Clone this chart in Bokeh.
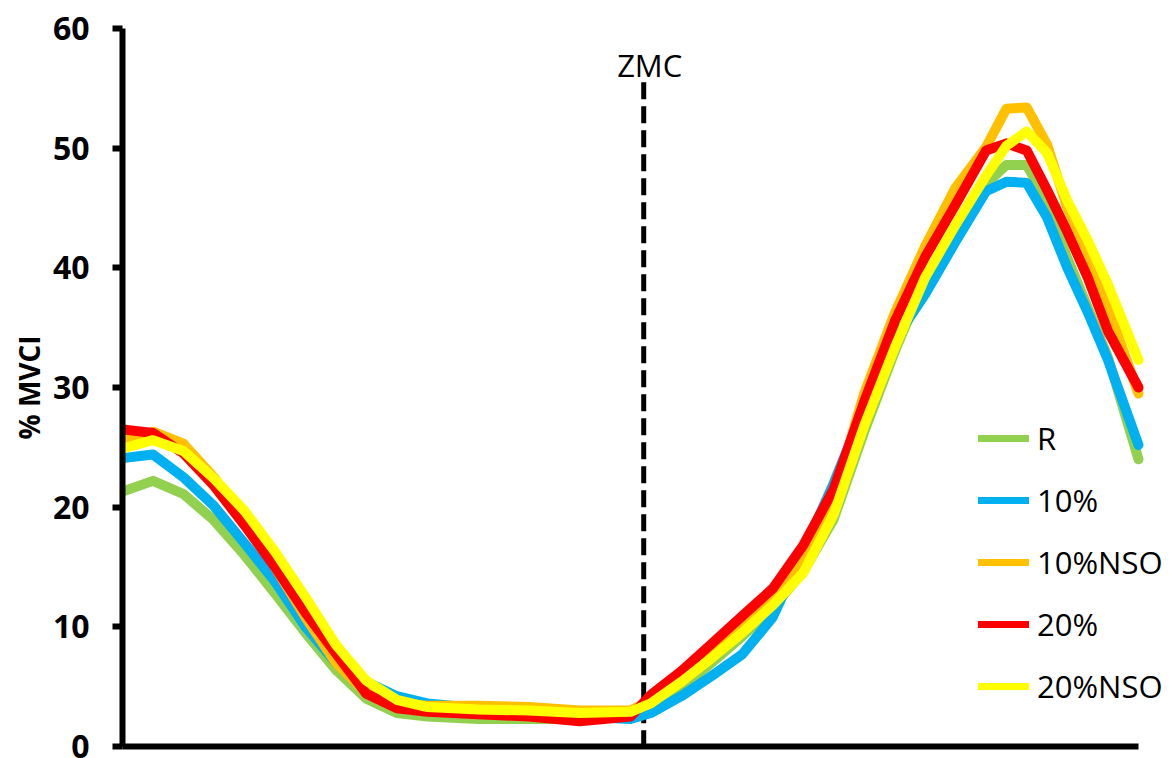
from bokeh.plotting import figure
from bokeh.models import Range1d, Legend, LegendItem, FixedTicker
from bokeh.core.properties import value
from bokeh.embed import file_html
from bokeh.resources import INLINE

# % of cycle
x = [0, 3, 6, 9, 12, 15, 18, 21, 24, 27, 30, 35, 40, 45, 50, 52, 55, 58, 61,
     64, 67, 70, 73, 76, 79, 82, 85, 87, 89, 91, 93, 95, 97, 100]

r_vals = [21.3, 22.2, 21.1, 18.9, 16.0, 12.8, 9.5, 6.4, 4.0, 2.8, 2.5, 2.3, 2.3, 2.3, 2.5,
          3.2, 4.9, 7.0, 9.2, 11.6, 14.6, 19.0, 26.3, 33.0, 39.0, 43.3, 47.0, 48.6, 48.6,
          45.6, 40.8, 36.7, 32.5, 24.0]
p10_vals = [24.1, 24.4, 22.5, 20.1, 17.0, 13.8, 10.0, 7.0, 5.4, 4.2, 3.6, 3.2, 3.0, 2.5, 2.3,
            2.8, 4.2, 5.9, 7.7, 10.8, 16.3, 22.0, 28.3, 34.0, 37.8, 42.2, 46.4, 47.2, 47.1,
            44.2, 40.0, 36.3, 32.3, 25.2]
p10nso_vals = [25.6, 26.3, 25.3, 22.5, 19.0, 15.0, 10.8, 7.0, 4.5, 3.6, 3.4, 3.4, 3.3, 3.0, 3.0,
               3.9, 5.8, 8.0, 10.2, 12.3, 15.8, 20.8, 29.5, 36.2, 41.8, 46.7, 50.1, 53.3, 53.4,
               50.3, 45.0, 41.3, 36.7, 29.5]
p20_vals = [26.5, 26.2, 24.5, 21.8, 18.5, 15.0, 11.2, 7.8, 4.4, 3.2, 2.9, 2.7, 2.5, 2.1, 2.5,
            4.3, 6.3, 8.6, 10.9, 13.2, 16.8, 21.5, 28.8, 35.5, 40.9, 45.3, 49.8, 50.4, 49.8,
            46.5, 43.0, 39.2, 34.7, 30.0]
p20nso_vals = [24.9, 25.6, 24.7, 22.4, 19.7, 16.3, 12.5, 8.5, 5.5, 3.9, 3.3, 3.1, 3.0, 2.8, 2.9,
               3.6, 5.4, 7.4, 9.5, 11.8, 14.5, 19.4, 26.8, 33.3, 39.2, 43.6, 47.7, 50.2, 51.4,
               49.6, 45.6, 42.3, 38.6, 32.3]

labels = ["R", "10%", "10%NSO", "20%", "20%NSO"]
colors = ["#92D050", "#00B0F0", "#FFC000", "#FF0000", "#FFFF00"]
series = [r_vals, p10_vals, p10nso_vals, p20_vals, p20nso_vals]

y_ticks = [0, 10, 20, 30, 40, 50, 60]
zmc_x = 51.3
zmc_top = 55.5

# frame: left at 122 px, x=100 at 1138 px, extends to canvas right edge
p = figure(width=1170, height=758, x_range=Range1d(0, 103.15), y_range=Range1d(0, 60),
           output_backend="svg", toolbar_location=None,
           min_border_left=122, min_border_right=0, min_border_top=28, min_border_bottom=12)
p.outline_line_color = None
p.grid.visible = False
p.background_fill_color = "white"

# y axis
p.yaxis.ticker = FixedTicker(ticks=y_ticks)
p.yaxis.axis_line_width = 6
p.yaxis.major_tick_line_width = 6
p.yaxis.major_tick_out = 10
p.yaxis.major_tick_in = 0
p.yaxis.minor_tick_line_color = None
p.yaxis.major_label_text_font = "Open Sans"
p.yaxis.major_label_text_font_style = "bold"
p.yaxis.major_label_text_font_size = "32px"
p.yaxis.major_label_text_color = "black"
p.yaxis.major_label_standoff = 23
p.yaxis.axis_label = "% MVCI"
p.yaxis.axis_label_text_font = "Open Sans"
p.yaxis.axis_label_text_font_style = "bold"
p.yaxis.axis_label_text_font_size = "28px"
p.yaxis.axis_label_text_color = "black"
p.yaxis.axis_label_standoff = 2

# x axis (line only, from 0 to 100)
p.xaxis.ticker = FixedTicker(ticks=[])
p.xaxis.bounds = (0, 100)
p.xaxis.axis_line_width = 6
p.xaxis.major_tick_line_color = None
p.xaxis.minor_tick_line_color = None
p.xaxis.major_label_text_font_size = "0px"
p.xaxis.major_label_standoff = 0

# ZMC line
p.segment(x0=[zmc_x], y0=[zmc_top], x1=[zmc_x], y1=[0], line_color="black",
          line_width=5, line_dash="17 7")
p.text(x=[zmc_x], y=[zmc_top], text=["ZMC"], text_align="center",
       text_baseline="alphabetic", x_offset=6, y_offset=-17,
       text_font=value("Open Sans"), text_font_size="31px", text_color="black")

for vals, c in zip(series, colors):
    p.line(x, vals, line_width=10, line_color=c, line_join="round", line_cap="round")

nan = float("nan")
items = []
for lab, c in zip(labels, colors):
    d = p.line(x=[nan, nan], y=[nan, nan], line_width=7, line_color=c, line_cap="round")
    items.append(LegendItem(label=lab, renderers=[d]))

legend = Legend(items=items, location=(856, 39), orientation="vertical",
                glyph_width=51, glyph_height=40, label_height=40, spacing=20,
                padding=0, margin=0, border_line_color=None, background_fill_alpha=0,
                label_standoff=8, label_text_font="Open Sans", label_text_font_size="31px",
                label_text_color="black")
p.add_layout(legend)

open("out.html", "w").write(file_html(p, INLINE))
